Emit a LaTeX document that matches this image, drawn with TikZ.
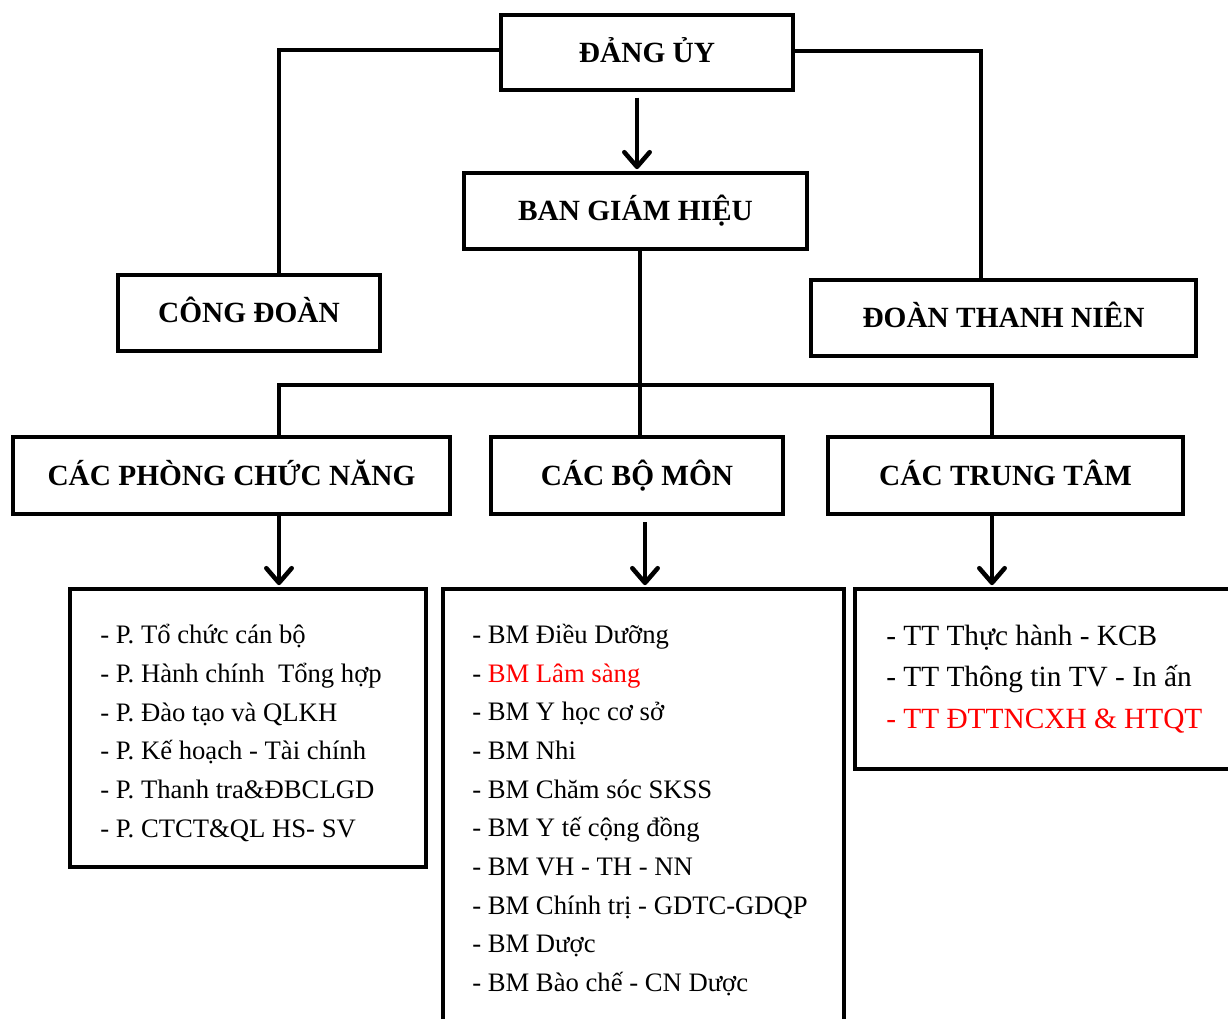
\documentclass[tikz,border=0pt]{standalone}
\usepackage{fontspec}
\setmainfont{Liberation Serif}
\usetikzlibrary{arrows.meta,fit}
\begin{document}
\begin{tikzpicture}[x=0.75pt,y=-0.75pt,
  unit/.style={draw, line width=3.4pt, inner sep=0pt},
  headtext/.style={font=\bfseries\fontsize{22}{26}\selectfont, inner sep=0pt,
    text height=14.5pt, text depth=0pt},
  listbox/.style={draw, line width=3.4pt, inner sep=0pt},
  items/.style={align=left, inner sep=0pt, anchor=west, font=\fontsize{20}{29}\selectfont},
  bigitems/.style={align=left, inner sep=0pt, anchor=west, font=\fontsize{22}{31.1}\selectfont},
  link/.style={line width=3.4pt},
  down/.style={line width=3.4pt, -{Straight Barb[length=11pt,width=19pt,round]}}]
\useasboundingbox (0,0) rectangle (1228,1019);
\clip (0,0) rectangle (1228,1019);

% organisation units
\node[unit, fit={(501,15) (793,90)}, label={[headtext]center:ĐẢNG ỦY}] (dang) {};
\node[unit, fit={(464,173) (807,249)}, label={[headtext]center:BAN GIÁM HIỆU}] (bgh) {};
\node[unit, fit={(118,275) (380,351)}, label={[headtext]center:CÔNG ĐOÀN}] (cd) {};
\node[unit, fit={(811,280) (1196,356)}, label={[headtext]center:ĐOÀN THANH NIÊN}] (dtn) {};
\node[unit, fit={(13,437) (450,514)}, label={[headtext]center:CÁC PHÒNG CHỨC NĂNG}] (phong) {};
\node[unit, fit={(491,437) (783,514)}, label={[headtext]center:CÁC BỘ MÔN}] (bomon) {};
\node[unit, fit={(828,437) (1183,514)}, label={[headtext]center:CÁC TRUNG TÂM}] (trungtam) {};

% lists of sub-units
\node[listbox, fit={(70,589) (426,867)}] (l1) {};
\node[listbox, fit={(443,589) (844,1040)}] (l2) {};
\node[listbox, fit={(855,589) (1240,769)}] (l3) {};

\node[items] (t1) at (100,733) {- P. Tổ chức cán bộ\\
- P. Hành chính~ Tổng hợp\\
- P. Đào tạo và QLKH\\
- P. Kế hoạch - Tài chính\\
- P. Thanh tra\&ĐBCLGD\\
- P. CTCT\&QL HS- SV};

\node[items] (t2) at (472,810) {- BM Điều Dưỡng\\
- \textcolor{red}{BM Lâm sàng}\\
- BM Y học cơ sở\\
- BM Nhi\\
- BM Chăm sóc SKSS\\
- BM Y tế cộng đồng\\
- BM VH - TH - NN\\
- BM Chính trị - GDTC-GDQP\\
- BM Dược\\
- BM Bào chế - CN Dược};

\node[bigitems] (t3) at (886,679) {- TT Thực hành - KCB\\
- TT Thông tin TV - In ấn\\
\textcolor{red}{- TT ĐTTNCXH \& HTQT}};

% connectors
\coordinate (ja) at (279,50);
\coordinate (jb) at (981,51);
\draw[link] (dang.west |- ja) -- (ja) -- (ja |- cd.north);
\draw[link] (dang.east |- jb) -- (jb) -- (jb |- dtn.north);

\coordinate (ka) at (637,0);
\draw[down] ([yshift=-4pt]ka |- dang.south) -- ([yshift=1.2pt]ka |- bgh.north);

\coordinate (bus) at (640,385);
\coordinate (busl) at (279,385);
\coordinate (busr) at (992,385);
\draw[link] (bus |- bgh.south) -- (bus);
\draw[link] (busl |- phong.north) -- (busl) -- (busr) -- (busr |- trungtam.north);
\draw[link] (bus) -- (bus |- bomon.north);

\coordinate (kb) at (645,0);
\draw[down] (busl |- phong.south) -- ([yshift=1.2pt]busl |- l1.north);
\draw[down] ([yshift=-4.5pt]kb |- bomon.south) -- ([yshift=1.2pt]kb |- l2.north);
\draw[down] (busr |- trungtam.south) -- ([yshift=1.2pt]busr |- l3.north);
\end{tikzpicture}
\end{document}
